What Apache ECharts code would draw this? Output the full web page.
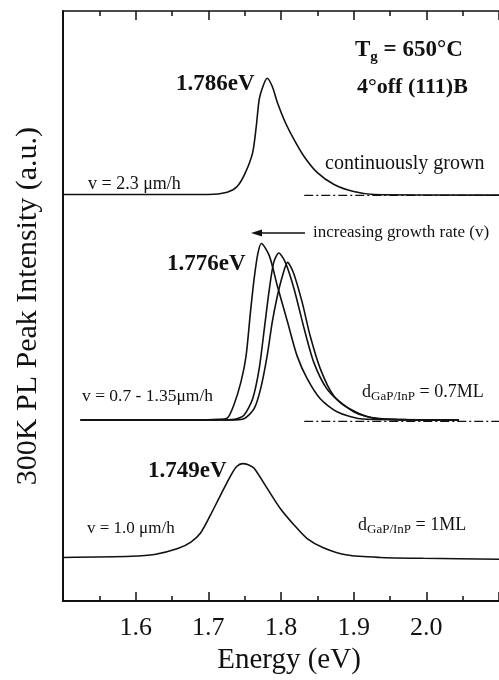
<!DOCTYPE html>
<html>
<head>
<meta charset="utf-8">
<script src="https://cdn.jsdelivr.net/npm/echarts@6/dist/echarts.min.js"></script>
<style>
    html, body { margin: 0; padding: 0; background: #fff; }
    #main { width: 499px; height: 680px; }
</style>
</head>
<body>
<div id="main"></div>
<script>
// continuously grown, v = 2.3 um/h
var energyTop = [1.50, 1.70, 1.726, 1.740, 1.751, 1.761, 1.766, 1.770, 1.776, 1.781, 1.788, 1.795, 1.806, 1.818, 1.832, 1.850, 1.873, 1.900, 1.928, 2.10];
var intensityTop = [68.9, 68.9, 69.3, 70.3, 72.6, 76.0, 80.5, 85.0, 87.5, 88.6, 87.2, 84.5, 81.1, 78.2, 75.3, 72.6, 70.6, 69.4, 68.9, 68.8];

// d = 0.7ML, three growth rates
var energyMidA = [1.524, 1.685, 1.713, 1.726, 1.735, 1.745, 1.752, 1.758, 1.763, 1.768, 1.773, 1.784, 1.795, 1.809, 1.822, 1.836, 1.854, 1.877, 1.909, 1.959, 2.045];
var intensityMidA = [30.7, 30.7, 30.8, 31.0, 33.2, 37.2, 41.6, 49.0, 54.6, 58.8, 60.6, 58.5, 53.4, 47.3, 41.6, 37.7, 34.3, 32.1, 30.9, 30.75, 30.7];
var energyMidB = [1.524, 1.713, 1.736, 1.749, 1.761, 1.770, 1.777, 1.784, 1.790, 1.797, 1.806, 1.818, 1.832, 1.845, 1.863, 1.886, 1.918, 1.955, 2.045];
var intensityMidB = [30.7, 30.7, 30.8, 31.5, 34.3, 39.4, 46.1, 52.9, 57.4, 59.0, 57.4, 52.9, 46.1, 40.5, 36.0, 33.2, 31.3, 30.8, 30.7];
var energyMidC = [1.524, 1.730, 1.749, 1.763, 1.772, 1.781, 1.788, 1.795, 1.802, 1.809, 1.817, 1.829, 1.840, 1.854, 1.872, 1.900, 1.932, 1.973, 2.045];
var intensityMidC = [30.7, 30.7, 30.9, 32.6, 36.0, 41.6, 47.3, 51.7, 55.1, 57.4, 55.7, 50.7, 45.0, 39.4, 34.9, 32.1, 30.9, 30.75, 30.7];

// d = 1ML, v = 1.0 um/h
var energyBot = [1.50, 1.594, 1.626, 1.658, 1.676, 1.689, 1.703, 1.717, 1.731, 1.739, 1.747, 1.755, 1.763, 1.781, 1.799, 1.818, 1.836, 1.859, 1.891, 1.936, 1.996, 2.10];
var intensityBot = [7.4, 7.6, 7.9, 8.9, 10.0, 11.5, 14.6, 18.0, 21.3, 22.8, 23.3, 23.1, 22.5, 19.1, 15.7, 12.9, 10.6, 9.0, 7.8, 7.4, 7.25, 7.1];

// dash-dot zero lines
var energyRef = [1.832, 2.10];
var zeroTop = [68.75, 68.75];
var zeroMid = [30.45, 30.45];

var tickLabels = ['1.6', '1.7', '1.8', '1.9', '2.0'];

function pairs(xs, ys) {
    return xs.map(function (x, i) { return [x, ys[i]]; });
}

var serif = 'Liberation Serif';
var ink = '#111';

function curve(xs, ys) {
    return {
        type: 'line',
        data: pairs(xs, ys),
        showSymbol: false,
        smooth: 0.25,
        lineStyle: { color: ink, width: 1.6 },
        silent: true
    };
}

function refLine(xs, ys) {
    return {
        type: 'line',
        data: pairs(xs, ys),
        showSymbol: false,
        lineStyle: { color: ink, width: 1.1, type: [9, 3, 2, 3] },
        silent: true
    };
}

function label(x, y, text, size, bold, rich) {
    return {
        type: 'text',
        x: x,
        y: y,
        silent: true,
        style: {
            text: text,
            fontFamily: serif,
            fontSize: size,
            fontWeight: bold ? 'bold' : 'normal',
            fill: ink,
            verticalAlign: 'middle',
            rich: rich
        }
    };
}

var subRich = {
    m: { fontFamily: serif, fontSize: 18, lineHeight: 19, color: ink },
    s: { fontFamily: serif, fontSize: 13, lineHeight: 13, padding: [10, 0, 0, 0], color: ink }
};
var tgRich = {
    m: { fontFamily: serif, fontSize: 23, fontWeight: 'bold', lineHeight: 25, color: ink },
    s: { fontFamily: serif, fontSize: 15, fontWeight: 'bold', lineHeight: 15, padding: [14, 0, 0, 0], color: ink }
};

var myChart = echarts.init(document.getElementById('main'), null, { renderer: 'canvas' });
var option = {
    animation: false,
    backgroundColor: '#fff',
    grid: { left: 63, right: -4, top: 11, bottom: 77 },
    xAxis: [{
        type: 'value',
        min: 1.5,
        max: 2.1,
        interval: 0.1,
        position: 'bottom',
        name: 'Energy (eV)',
        nameLocation: 'middle',
        nameGap: 41,
        nameTextStyle: { fontFamily: serif, fontSize: 29, color: ink, padding: [0, 0, 0, 16] },
        axisLine: { lineStyle: { color: ink, width: 2 } },
        axisTick: { inside: true, length: 9, lineStyle: { color: ink, width: 1.5 } },
        minorTick: { show: true, splitNumber: 2, length: 5, lineStyle: { color: ink, width: 1.5 } },
        splitLine: { show: false },
        axisLabel: {
            showMinLabel: false,
            showMaxLabel: false,
            margin: 14,
            fontFamily: serif,
            fontSize: 26,
            color: ink,
            formatter: function (v) {
                var s = v.toFixed(1);
                return tickLabels.indexOf(s) >= 0 ? s : '';
            }
        }
    }, {
        type: 'value',
        min: 1.5,
        max: 2.1,
        interval: 0.1,
        position: 'top',
        axisLine: { lineStyle: { color: ink, width: 1.5 } },
        axisTick: { inside: true, length: 9, lineStyle: { color: ink, width: 1.5 } },
        minorTick: { show: true, splitNumber: 2, length: 5, lineStyle: { color: ink, width: 1.5 } },
        splitLine: { show: false },
        axisLabel: { show: false }
    }],
    yAxis: {
        type: 'value',
        min: 0,
        max: 100,
        name: '300K PL Peak Intensity (a.u.)',
        nameLocation: 'middle',
        nameGap: 20,
        nameRotate: 90,
        nameTextStyle: { fontFamily: serif, fontSize: 30, color: ink },
        axisLine: { show: true, lineStyle: { color: ink, width: 2 } },
        axisTick: { show: false },
        axisLabel: { show: false },
        splitLine: { show: false }
    },
    series: [
        curve(energyTop, intensityTop),
        curve(energyMidA, intensityMidA),
        curve(energyMidB, intensityMidB),
        curve(energyMidC, intensityMidC),
        curve(energyBot, intensityBot),
        refLine(energyRef, zeroTop),
        refLine(energyRef, zeroMid)
    ],
    graphic: [
        label(176, 84, '1.786eV', 23, true),
        label(355, 50, '{m|T}{s|g}{m| = 650°C}', 23, true, tgRich),
        label(357, 87, '4°off (111)B', 22, true),
        label(325, 164, 'continuously grown', 20, false),
        label(88, 184, 'v = 2.3 μm/h', 18, false),
        {
            type: 'polyline',
            silent: true,
            shape: { points: [[305, 233], [258, 233]] },
            style: { stroke: ink, lineWidth: 1.5 }
        },
        {
            type: 'polygon',
            silent: true,
            shape: { points: [[251, 233], [262, 229.5], [262, 236.5]] },
            style: { fill: ink }
        },
        label(313, 233, 'increasing growth rate (v)', 17, false),
        label(167, 264, '1.776eV', 23, true),
        label(82, 396, 'v = 0.7 - 1.35μm/h', 17.5, false),
        label(362, 392, '{m|d}{s|GaP/InP}{m| = 0.7ML}', 18, false, subRich),
        label(148, 471, '1.749eV', 23, true),
        label(87, 529, 'v = 1.0 μm/h', 17, false),
        label(358, 525, '{m|d}{s|GaP/InP}{m| = 1ML}', 18, false, subRich)
    ]
};
myChart.setOption(option);
</script>
</body>
</html>
